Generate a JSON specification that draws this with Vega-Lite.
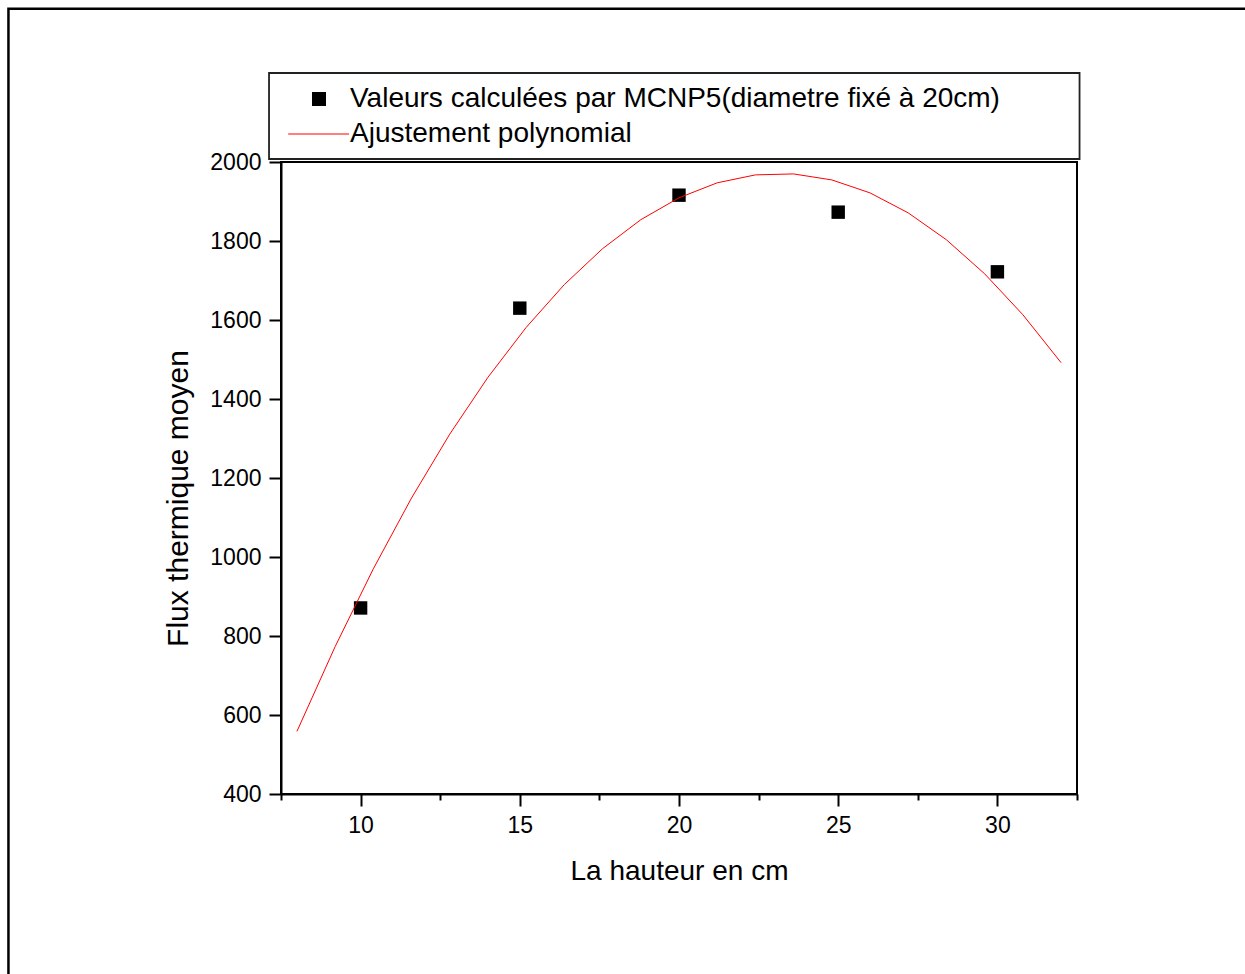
{
  "$schema": "https://vega.github.io/schema/vega-lite/v6.json",
  "width": 796,
  "height": 632,
  "autosize": "none",
  "padding": {"left": 281, "top": 162, "right": 168, "bottom": 180},
  "background": "white",
  "config": {
    "view": {"stroke": "black", "strokeWidth": 2},
    "font": "Liberation Sans",
    "legend": {
      "orient": "none",
      "legendX": 24,
      "legendY": -77,
      "title": null,
      "padding": 0,
      "labelFont": "Liberation Sans",
      "labelFontSize": 28,
      "labelColor": "black",
      "labelOffset": 17,
      "symbolSize": 196,
      "symbolStrokeWidth": 0,
      "symbolOpacity": 1,
      "rowPadding": 7,
      "labelLimit": 0
    }
  },
  "datasets": {
    "pts": [
      {"x": 10, "y": 871, "series": "Valeurs calculées par MCNP5(diametre fixé à 20cm)"},
      {"x": 15, "y": 1630, "series": "Valeurs calculées par MCNP5(diametre fixé à 20cm)"},
      {"x": 20, "y": 1916, "series": "Valeurs calculées par MCNP5(diametre fixé à 20cm)"},
      {"x": 25, "y": 1873, "series": "Valeurs calculées par MCNP5(diametre fixé à 20cm)"},
      {"x": 30, "y": 1722, "series": "Valeurs calculées par MCNP5(diametre fixé à 20cm)"}
    ],
    "fit": [
      {"x": 8.0, "y": 558.4},
      {"x": 9.2, "y": 773.1},
      {"x": 10.4, "y": 970.1},
      {"x": 11.6, "y": 1149.4},
      {"x": 12.8, "y": 1311.0},
      {"x": 14.0, "y": 1455.0},
      {"x": 15.2, "y": 1581.2},
      {"x": 16.4, "y": 1689.8},
      {"x": 17.6, "y": 1780.6},
      {"x": 18.8, "y": 1853.9},
      {"x": 20.0, "y": 1909.4},
      {"x": 21.2, "y": 1947.3},
      {"x": 22.4, "y": 1967.4},
      {"x": 23.6, "y": 1969.8},
      {"x": 24.8, "y": 1954.6},
      {"x": 26.0, "y": 1921.8},
      {"x": 27.2, "y": 1871.2},
      {"x": 28.4, "y": 1803.0},
      {"x": 29.6, "y": 1716.9},
      {"x": 30.8, "y": 1613.3},
      {"x": 32.0, "y": 1492.0}
    ],
    "frame": [{"x": -1.06, "x2": 45, "y": 2388, "y2": -300}],
    "box": [{"x": 7.124, "x2": 32.58, "y": 2225.3, "y2": 2007.6}]
  },
  "layer": [
    {
      "data": {"name": "pts"},
      "mark": {"type": "point", "filled": true, "opacity": 1, "size": 180},
      "encoding": {
        "x": {
          "field": "x", "type": "quantitative",
          "scale": {"domain": [7.5, 32.5], "nice": false, "zero": false},
          "axis": {
            "title": "La hauteur en cm",
            "values": [7.5, 10, 12.5, 15, 17.5, 20, 22.5, 25, 27.5, 30, 32.5],
            "labelExpr": "datum.value % 5 === 0 ? datum.label : ''",
            "tickSize": {"condition": {"test": "datum.value % 5 === 0", "value": 12}, "value": 6},
            "tickWidth": 2, "tickColor": "black",
            "domainColor": "black", "domainWidth": 2,
            "grid": false,
            "labelFontSize": 23, "labelColor": "black", "labelFont": "Liberation Sans", "labelPadding": 8,
            "titleFontSize": 28, "titleFont": "Liberation Sans", "titleFontWeight": "normal", "titleColor": "black", "titlePadding": 20
          }
        },
        "y": {
          "field": "y", "type": "quantitative",
          "scale": {"domain": [400, 2000], "nice": false, "zero": false},
          "axis": {
            "title": "Flux thermique moyen",
            "values": [400, 500, 600, 700, 800, 900, 1000, 1100, 1200, 1300, 1400, 1500, 1600, 1700, 1800, 1900, 2000],
            "labelExpr": "datum.value % 200 === 0 ? datum.label : ''",
            "format": "d",
            "tickSize": {"condition": {"test": "datum.value % 200 === 0", "value": 12}, "value": 6},
            "tickWidth": 2, "tickColor": "black",
            "domainColor": "black", "domainWidth": 2,
            "grid": false,
            "labelFontSize": 23, "labelColor": "black", "labelFont": "Liberation Sans", "labelPadding": 8,
            "titleFontSize": 30, "titleFont": "Liberation Sans", "titleFontWeight": "normal", "titleColor": "black", "titlePadding": 16,
            "titleY": 336
          }
        },
        "color": {
          "field": "series", "type": "nominal",
          "scale": {"domain": ["Valeurs calculées par MCNP5(diametre fixé à 20cm)", "Ajustement polynomial"], "range": ["#000000", "#ff0000"]},
          "legend": {}
        },
        "shape": {
          "field": "series", "type": "nominal",
          "scale": {"domain": ["Valeurs calculées par MCNP5(diametre fixé à 20cm)", "Ajustement polynomial"], "range": ["square", "M-4.4,-0.07H4.3V0.07H-4.4Z"]},
          "legend": {}
        }
      }
    },
    {
      "data": {"name": "frame"},
      "mark": {"type": "rect", "filled": false, "stroke": "black", "strokeWidth": 2.5, "clip": false},
      "encoding": {
        "x": {"field": "x", "type": "quantitative"},
        "x2": {"field": "x2"},
        "y": {"field": "y", "type": "quantitative"},
        "y2": {"field": "y2"}
      }
    },
    {
      "data": {"name": "box"},
      "mark": {"type": "rect", "filled": false, "stroke": "#222", "strokeWidth": 1.8, "clip": false},
      "encoding": {
        "x": {"field": "x", "type": "quantitative"},
        "x2": {"field": "x2"},
        "y": {"field": "y", "type": "quantitative"},
        "y2": {"field": "y2"}
      }
    },
    {
      "data": {"name": "fit"},
      "mark": {"type": "line", "color": "#ff0000", "strokeWidth": 1},
      "encoding": {
        "x": {"field": "x", "type": "quantitative"},
        "y": {"field": "y", "type": "quantitative"}
      }
    }
  ]
}
